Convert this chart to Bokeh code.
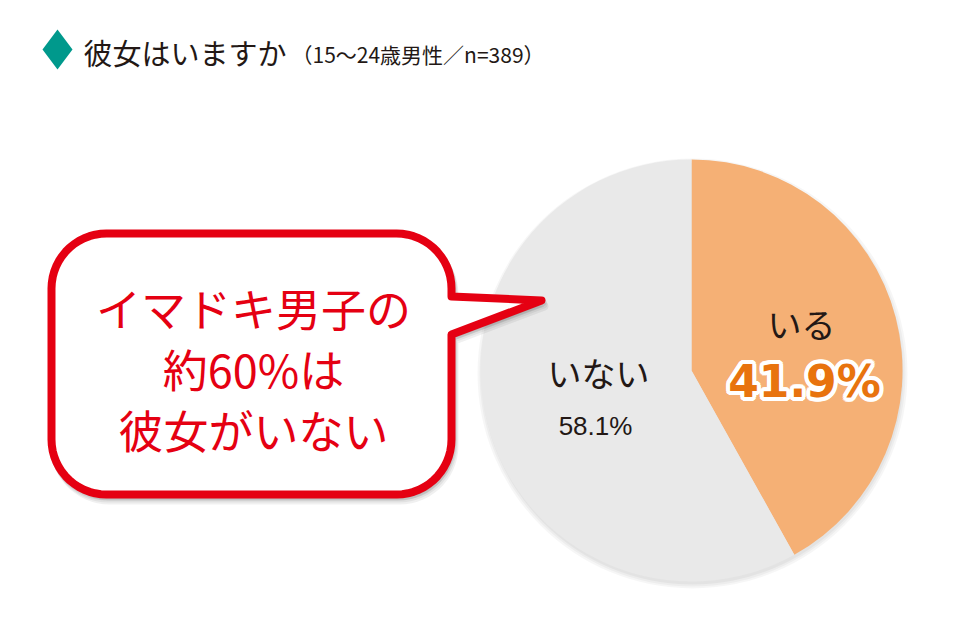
import numpy as np
from bokeh.plotting import figure
from bokeh.models import Range1d
from bokeh.embed import file_html
from bokeh.resources import INLINE
from bokeh.core.properties import value

W, H = 963, 629

# --- data -------------------------------------------------------------
title = "彼女はいますか"
subtitle = "（15～24歳男性／n=389）"
categories = ["いる", "いない"]
shares = [41.9, 58.1]
slice_colors = ["#f5b075", "#e9e9e9"]
callout_lines = ["イマドキ男子の", "約60%は", "彼女がいない"]

JP = "Noto Sans CJK JP"
RED = "#e50012"
INK = "#231815"


def Y(py):
    """Page pixels are measured from the top; data y grows upward."""
    return H - py


p = figure(width=W, height=H, x_range=Range1d(0, W), y_range=Range1d(0, H),
           output_backend="svg", toolbar_location=None, min_border=0,
           x_axis_location=None, y_axis_location=None)
p.grid.visible = False
p.outline_line_color = None
p.background_fill_color = "white"
p.border_fill_color = "white"

# --- heading ----------------------------------------------------------
p.patch([42, 57, 72, 57], [Y(49), Y(29), Y(49), Y(69)],
        fill_color="#00998c", line_color=None)
p.text(x=[83], y=[Y(51)], text=[title], text_font=value(JP),
       text_font_size="29px", text_color=INK, text_baseline="middle",
       text_align="left")
p.text(x=[291], y=[Y(53)], text=[subtitle], text_font=value(JP),
       text_font_size="21px", text_color=INK, text_baseline="middle",
       text_align="left")

# --- pie --------------------------------------------------------------
cx, cy, r = 691, Y(370), 211
frac = np.array(shares) / sum(shares)
cum = np.concatenate([[0.0], np.cumsum(frac)])
starts = np.pi / 2 - 2 * np.pi * cum[:-1]
ends = np.pi / 2 - 2 * np.pi * cum[1:]

# soft drop shadow under the disc
for i, a in enumerate([0.035, 0.035, 0.04]):
    p.circle(x=cx + 1, y=cy - 3, radius=r + 4 - i * 2, fill_color="#000000",
             fill_alpha=a, line_color=None)

p.wedge(x=cx, y=cy, radius=r, start_angle=starts, end_angle=ends,
        direction="clock", fill_color=slice_colors, line_color=None)

# slice labels
p.text(x=[801], y=[Y(323)], text=[categories[0]], text_font=value(JP),
       text_font_size="34px", text_color=INK, text_align="center",
       text_baseline="middle")

# big share figure: white halo built from offset copies, orange on top
big = f"{shares[0]:.1f}%"
halo = [(4 * np.cos(t), 4 * np.sin(t)) for t in np.linspace(0, 2 * np.pi, 16, endpoint=False)]
p.text(x=[804 + dx for dx, _ in halo], y=[Y(381) + dy for _, dy in halo],
       text=[big] * len(halo), text_font=value("DejaVu Sans"),
       text_font_style="bold", text_font_size="44px", text_color="white",
       text_align="center", text_baseline="middle")
p.text(x=[804], y=[Y(381)], text=[big], text_font=value("DejaVu Sans"),
       text_font_style="bold", text_font_size="44px", text_color="#e8730e",
       text_align="center", text_baseline="middle")

p.text(x=[598], y=[Y(372)], text=[categories[1]], text_font=value(JP),
       text_font_size="34px", text_color=INK, text_align="center",
       text_baseline="middle")
p.text(x=[595], y=[Y(425)], text=[f"{shares[1]:.1f}%"],
       text_font=value("Liberation Sans"), text_font_size="26px",
       text_color=INK, text_align="center", text_baseline="middle")

# --- speech bubble ----------------------------------------------------
def bubble(l, rt, top, bot, rad, tail_top, tail_bot, tip):
    xs, ys = [], []

    def arc(ccx, ccy, a0, a1):
        for t in np.linspace(a0, a1, 16):
            xs.append(ccx + rad * np.cos(t))
            ys.append(ccy + rad * np.sin(t))

    arc(l + rad, top - rad, np.pi, np.pi / 2)
    arc(rt - rad, top - rad, np.pi / 2, 0)
    xs += [rt, tip[0], rt]
    ys += [tail_top, tip[1], tail_bot]
    arc(rt - rad, bot + rad, 0, -np.pi / 2)
    arc(l + rad, bot + rad, -np.pi / 2, -np.pi)
    return xs, ys


bx, by = bubble(51, 451, Y(233), Y(494), 55, Y(296), Y(334), (541, Y(300)))
for dx, dy, a in [(3, -6, 0.06), (2, -4, 0.06), (1, -2, 0.08)]:
    p.patch([x + dx for x in bx], [y + dy for y in by], fill_color="#000000",
            fill_alpha=a, line_color="#000000", line_alpha=a, line_width=8,
            line_join="round")
p.patch(bx, by, fill_color="white", line_color=RED, line_width=8,
        line_join="round")

for i, line in enumerate(callout_lines):
    p.text(x=[253], y=[Y(307 + 61 * i)], text=[line], text_font=value(JP),
           text_font_size="45px", text_color=RED, text_align="center",
           text_baseline="middle")

open("out.html", "w").write(file_html(p, INLINE))
